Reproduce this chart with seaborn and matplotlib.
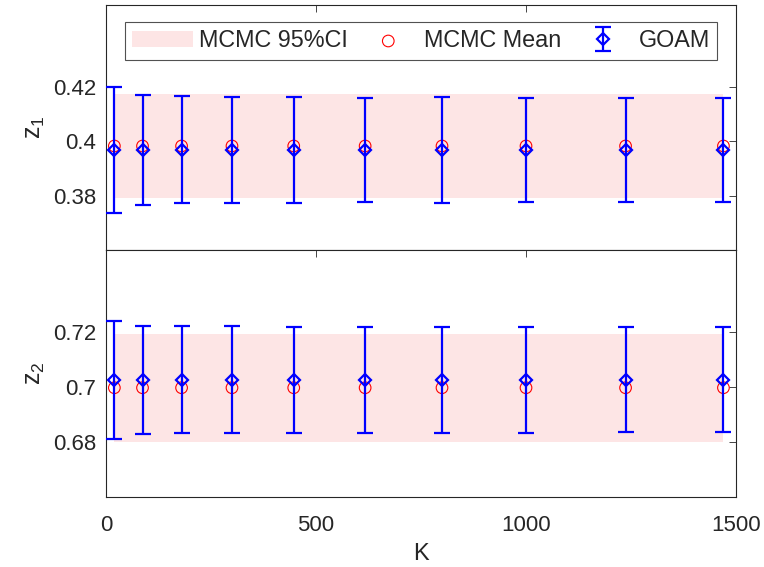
import numpy as np
import matplotlib
matplotlib.use('Agg')
import matplotlib.pyplot as plt
import seaborn as sns

# values
K = [20, 87, 180, 300, 447, 617, 800, 1000, 1237, 1470]

z1_mcmc_mean = [0.3982] * 10
z1_ci_lo = [0.3790] * 10
z1_ci_hi = [0.4172] * 10
z1_goam = [0.3966] * 10
z1_goam_lo = [0.3737, 0.3765, 0.3771, 0.3773, 0.3773, 0.3776, 0.3773, 0.3777, 0.3776, 0.3776]
z1_goam_hi = [0.4200, 0.4169, 0.4164, 0.4162, 0.4162, 0.4160, 0.4161, 0.4160, 0.4160, 0.4160]

z2_mcmc_mean = [0.6998] * 10
z2_ci_lo = [0.6800] * 10
z2_ci_hi = [0.7194] * 10
z2_goam = [0.7028] * 10
z2_goam_lo = [0.6811, 0.6829, 0.6833, 0.6834, 0.6834, 0.6834, 0.6834, 0.6834, 0.6835, 0.6835]
z2_goam_hi = [0.7243, 0.7222, 0.7222, 0.7222, 0.7221, 0.7220, 0.7220, 0.7218, 0.7219, 0.7218]

x_ticks = [0, 500, 1000, 1500]
z1_ticks = [0.38, 0.40, 0.42]
z1_ticklabels = ['0.38', '0.4', '0.42']
z2_ticks = [0.68, 0.70, 0.72]
z2_ticklabels = ['0.68', '0.7', '0.72']

sns.set_theme(style='white')
plt.rcParams['font.family'] = ['Liberation Sans', 'DejaVu Sans']
plt.rcParams['mathtext.fontset'] = 'custom'
plt.rcParams['mathtext.rm'] = 'Liberation Sans'
plt.rcParams['mathtext.it'] = 'Liberation Sans'

dark = '#262626'
band_col = '#FDE5E5'

fig = plt.figure(figsize=(7.64, 5.67), dpi=100)
ax1 = fig.add_axes([0.1387, 0.5591, 0.8247, 0.4321])
ax2 = fig.add_axes([0.1387, 0.1235, 0.8247, 0.4356])


def draw_panel(ax, mean, lo, hi, goam, glo, ghi):
    ax.fill_between(K, lo, hi, color=band_col, linewidth=0, label='MCMC 95%CI')
    sns.scatterplot(x=K, y=mean, ax=ax, marker='o', s=70, facecolors='none',
                    edgecolor='red', linewidth=0.8, label='MCMC Mean', zorder=3)
    g = np.array(goam)
    yerr = [g - np.array(glo), np.array(ghi) - g]
    ax.errorbar(K, goam, yerr=yerr, fmt='D', color='blue', mfc='none', mec='blue',
                ms=6.5, mew=1.6, elinewidth=1.6, capsize=6, capthick=1.6,
                label='GOAM', zorder=4)


draw_panel(ax1, z1_mcmc_mean, z1_ci_lo, z1_ci_hi, z1_goam, z1_goam_lo, z1_goam_hi)
draw_panel(ax2, z2_mcmc_mean, z2_ci_lo, z2_ci_hi, z2_goam, z2_goam_lo, z2_goam_hi)

for ax in (ax1, ax2):
    ax.set_xlim(0, 1500)
    ax.set_xticks(x_ticks)
    ax.tick_params(direction='in', top=True, right=True, length=5, width=0.6,
                   color=dark, labelcolor=dark, labelsize=16)
    ax.tick_params(axis='y', pad=7)
    ax.tick_params(axis='x', pad=13)
    for s in ax.spines.values():
        s.set_color(dark)
        s.set_linewidth(0.8)

ax1.set_ylim(0.36, 0.45)
ax1.set_yticks(z1_ticks)
ax1.set_yticklabels(z1_ticklabels)
ax1.tick_params(axis='x', labelbottom=False)
ax1.set_ylabel(r'$\mathrm{z_1}$', fontsize=18, color=dark, labelpad=4)

ax2.set_ylim(0.66, 0.75)
ax2.set_yticks(z2_ticks)
ax2.set_yticklabels(z2_ticklabels)
ax2.set_ylabel(r'$\mathrm{z_2}$', fontsize=18, color=dark, labelpad=4)
ax2.set_xlabel('K', fontsize=17, color=dark, labelpad=5)
if ax2.get_legend() is not None:
    ax2.get_legend().remove()

h, l = ax1.get_legend_handles_labels()
leg = ax1.legend(h, l, loc='upper center', bbox_to_anchor=(0.5, 0.932), ncol=3,
                 fontsize=16.8, frameon=True, fancybox=False, handlelength=2.6,
                 handletextpad=0.25, columnspacing=0.45, borderpad=0.32,
                 borderaxespad=0)
leg.get_frame().set_edgecolor(dark)
leg.get_frame().set_linewidth(0.8)

fig.savefig('out.png', dpi=100)
